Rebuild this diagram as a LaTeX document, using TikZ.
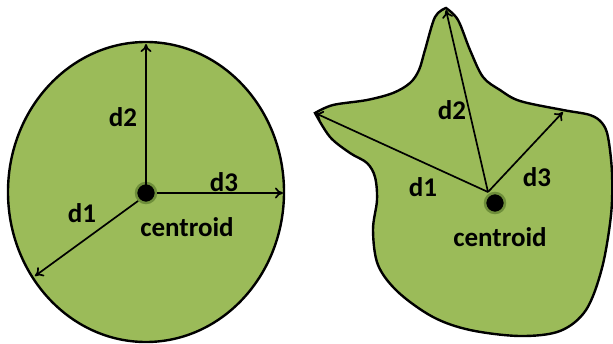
\documentclass[tikz,border=0pt]{standalone}
\usepackage{fontspec}
\setmainfont{Carlito}
\usetikzlibrary{arrows.meta}
\definecolor{leaf}{HTML}{9BBB59}
\definecolor{halo}{HTML}{6E8E3A}
\tikzset{
  blob/.style={fill=leaf,draw=black,line width=2.4pt},
  ray/.style={draw=black,line width=1.7pt,-{To[length=8pt,width=11pt]}},
  lbl/.style={font=\bfseries\fontsize{27}{27}\selectfont,inner sep=0pt},
  cdot/.style={circle,fill=black,minimum size=20pt,inner sep=0pt,draw=halo,line width=2.5pt},
}
\begin{document}
\begin{tikzpicture}[x=1pt,y=-1pt]
\useasboundingbox (0,0) rectangle (613,343);
% left ellipse
\path[blob] (146,192) ellipse [x radius=138, y radius=150];
\node[cdot] (c1) at (146,193) {};
\coordinate (t2) at (146,44);
\coordinate (t3) at (283,193);
\coordinate (t1) at (35,276);
\draw[ray] (c1.center) -- (t2);
\draw[ray] (c1.east) -- (t3);
\draw[ray] (c1.south west) -- (t1);
\node[lbl] (l2) at (123,117) {d2};
\node[lbl] (l3) at (224,182) {d3};
\node[lbl] (l1) at (82,213) {d1};
\node[lbl] (cl1) at (187,227) {centroid};
% right star shape
\path[blob] plot[smooth,tension=0.55] coordinates {(315,113) (333,105) (367,100) (393,93) (410,83) (419,70) (425,50) (435,17) (446,8)}
  -- plot[smooth,tension=0.55] coordinates {(446,8) (458,20) (470,50) (483,77) (500,90) (520,101) (563,110) (590,115) (602,123) (608,137) (612,173) (611,215) (602,268) (586,310) (560,331) (520,336) (470,330) (433,317) (398,292) (378,265) (373,230) (377,200) (375,177) (367,163) (350,153) (330,137) (315,113)} -- cycle;
\node[cdot] (c2) at (495,203) {};
\coordinate (o) at (488,192);
\coordinate (s1) at (315,113);
\coordinate (s2) at (446,10);
\coordinate (s3) at (563,112);
\draw[ray] (o) -- (s1);
\draw[ray] (o) -- (s2);
\draw[ray] (o) -- (s3);
\node[lbl] (r2) at (452,110) {d2};
\node[lbl] (r1) at (423,187) {d1};
\node[lbl] (r3) at (537,177) {d3};
\node[lbl] (cl2) at (500,237) {centroid};
\end{tikzpicture}
\end{document}
